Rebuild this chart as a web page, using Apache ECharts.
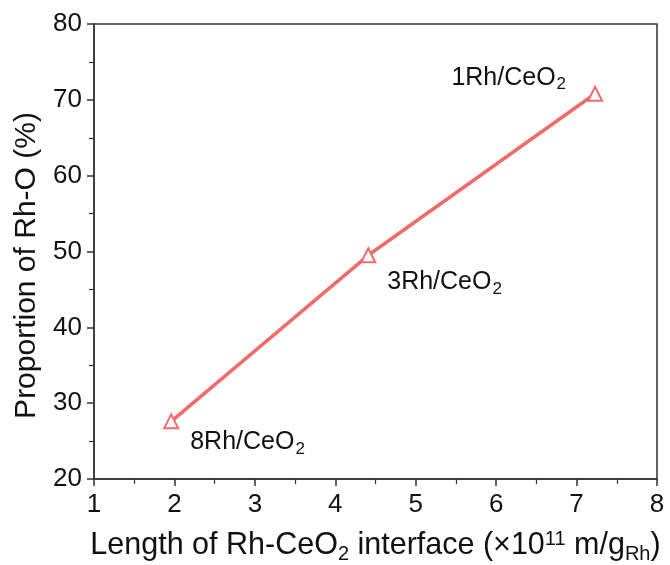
<!DOCTYPE html>
<html>
<head>
<meta charset="utf-8">
<script src="https://cdn.jsdelivr.net/npm/echarts@6/dist/echarts.min.js"></script>
<style>
  html, body { margin: 0; padding: 0; background: #fff; }
  #chart { width: 670px; height: 565px; }
</style>
</head>
<body>
<div id="chart"></div>
<script>
// Rh-CeO2 interface length vs. proportion of Rh-O species
const sampleNames = ['8Rh/CeO', '3Rh/CeO', '1Rh/CeO'];
const interfaceLength = [1.96, 4.41, 7.23];   // ×10^11 m/g_Rh
const rhOProportion = [27.6, 49.5, 70.8];      // %
const xTicks = [1, 2, 3, 4, 5, 6, 7, 8];
const yTicks = [20, 30, 40, 50, 60, 70, 80];

const lineColor = '#f26b6b';
const axisColor = '#333';
const font = 'Liberation Sans, Arial, sans-serif';

// per-point label placement around the marker
const labelPlacement = [
  { position: 'right', offset: [11, 21] },
  { position: 'right', offset: [11, 27] },
  { position: 'left', offset: [-21, -16] }
];

const seriesData = interfaceLength.map((x, i) => ({
  value: [x, rhOProportion[i]],
  label: {
    show: true,
    position: labelPlacement[i].position,
    offset: labelPlacement[i].offset,
    distance: 0,
    formatter: sampleNames[i] + '{sub|2}',
    color: '#111',
    fontSize: 25,
    fontFamily: font,
    rich: {
      sub: { fontSize: 17, fontFamily: font, color: '#111', padding: [14, 0, 0, 1] }
    }
  }
}));

const chart = echarts.init(document.getElementById('chart'), null, { renderer: 'canvas' });

chart.setOption({
  animation: false,
  backgroundColor: '#fff',
  grid: {
    left: 94, right: 13, top: 24, bottom: 86,
    containLabel: false,
    outerBoundsMode: 'none',
    show: true, borderColor: axisColor, borderWidth: 1.5, backgroundColor: 'transparent'
  },
  xAxis: {
    type: 'value',
    min: xTicks[0], max: xTicks[xTicks.length - 1], interval: 1,
    axisLine: { show: true, lineStyle: { color: axisColor, width: 1.5 } },
    axisTick: { show: true, inside: false, length: 7, lineStyle: { color: axisColor, width: 1.5 } },
    minorTick: { show: true, splitNumber: 2, length: 5, lineStyle: { color: axisColor, width: 1.2 } },
    splitLine: { show: false },
    axisLabel: { color: '#111', fontSize: 26, fontFamily: font, margin: 13 },
    name: 'Length of Rh-CeO{sub|2} interface (×10{sup|11} m/g{sub|Rh})',
    nameLocation: 'middle',
    nameGap: 49,
    nameTextStyle: {
      color: '#111', fontSize: 30.5, fontFamily: font,
      rich: {
        sub: { fontSize: 20, fontFamily: font, color: '#111', padding: [16, 0, 0, 0] },
        sup: { fontSize: 20, fontFamily: font, color: '#111', padding: [0, 0, 14, 0] }
      }
    }
  },
  yAxis: {
    type: 'value',
    min: yTicks[0], max: yTicks[yTicks.length - 1], interval: 10,
    axisLine: { show: true, lineStyle: { color: axisColor, width: 1.5 } },
    axisTick: { show: true, inside: false, length: 7, lineStyle: { color: axisColor, width: 1.5 } },
    minorTick: { show: true, splitNumber: 2, length: 5, lineStyle: { color: axisColor, width: 1.2 } },
    splitLine: { show: false },
    axisLabel: { color: '#111', fontSize: 26, fontFamily: font, margin: 12 },
    name: 'Proportion of Rh-O (%)',
    nameLocation: 'middle',
    nameGap: 51,
    nameTextStyle: { color: '#111', fontSize: 30, fontFamily: font, padding: [0, 28, 0, 0] }
  },
  series: [{
    type: 'line',
    data: seriesData,
    symbol: 'triangle',
    symbolSize: 14,
    showAllSymbol: true,
    lineStyle: { color: lineColor, width: 3.5 },
    itemStyle: { color: '#fff', borderColor: lineColor, borderWidth: 2 },
    z: 3
  }]
});
</script>
</body>
</html>
